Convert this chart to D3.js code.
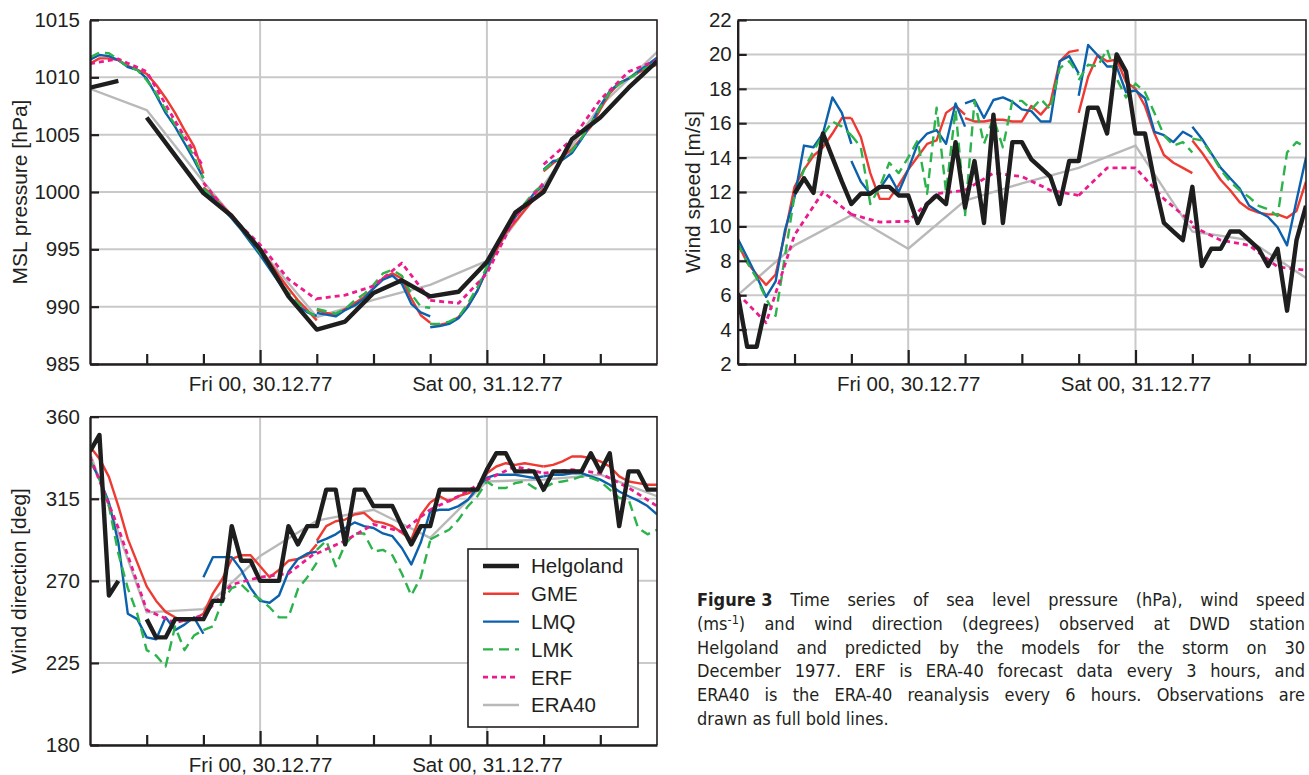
<!DOCTYPE html>
<html><head><meta charset="utf-8">
<script src="https://cdn.jsdelivr.net/npm/d3@7"></script>
<style>
html,body{margin:0;padding:0;background:#fff;}
svg{display:block;}
</style></head><body>
<svg id="fig" width="1309" height="775"></svg>
<script>
// ---------- time axis (hours relative to Fri 30.12.77 00 UTC) ----------
const timeDomain = [-18, 42];
const minorTicks = [-12, -6, 0, 6, 12, 18, 24, 30, 36];
const majorTicks = [0, 24];
const majorLabels = {0: "Fri 00, 30.12.77", 24: "Sat 00, 31.12.77"};

// model forecast runs: start hour of each 12-h run, hourly values
const runStarts = [-18, -6, 6, 18, 30];
const erfStep = 3;     // ERF every 3 hours
const era40Hours = [-18, -12, -6, 0, 6, 12, 18, 24, 30, 36, 42];

// ---------- MSL pressure [hPa] ----------
const pressTicks = [985, 990, 995, 1000, 1005, 1010, 1015];
const pressObsHours = [-18, -15, -14, -12, -9, -6, -3, 0, 3, 6, 9, 12, 15, 18, 21, 24, 27, 30, 33, 36, 39, 42];
const pressObs = [1009.1, 1009.7, null, 1006.5, 1003.2, 999.9, 997.9, 995.0, 990.9, 988.0, 988.7, 991.2, 992.3, 990.9, 991.3, 993.9, 998.2, 1000.0, 1004.6, 1006.5, 1009.1, 1011.4];
const pressGME = [
  [1011.2, 1011.65, 1011.65, 1011.5, 1011.0, 1010.65, 1010.3, 1009.35, 1008.2, 1006.9, 1005.4, 1004.0, 1001.6],
  [1000.4, 999.7, 998.8, 998.0, 996.95, 996.1, 995.05, 993.9, 992.7, 991.6, 990.55, 989.7, 988.8],
  [989.7, 989.45, 989.3, 989.8, 990.3, 990.85, 991.6, 992.5, 992.9, 992.45, 990.7, 989.25, 988.6],
  [988.5, 988.4, 988.6, 989.1, 990.1, 991.4, 993.2, 994.9, 996.4, 997.4, 998.4, 999.4, 1000.3],
  [1001.8, 1002.5, 1003.1, 1003.7, 1004.7, 1005.7, 1007.2, 1008.6, 1009.5, 1009.9, 1010.4, 1010.8, 1011.1]
];
const pressLMQ = [
  [1011.55, 1011.95, 1011.85, 1011.5, 1010.9, 1010.65, 1009.9, 1008.45, 1006.9, 1005.7, 1004.25, 1002.8, 1001.2],
  [1000.2, 999.5, 998.6, 997.7, 996.7, 995.6, 994.5, 993.3, 992.1, 991.0, 990.1, 989.5, 989.2],
  [989.45, 989.3, 989.15, 989.7, 990.1, 990.7, 991.6, 992.35, 992.7, 992.0, 990.25, 989.5, 989.15],
  [988.2, 988.3, 988.5, 989.0, 990.0, 991.4, 993.3, 995.2, 996.7, 997.8, 998.8, 999.9, 1000.6],
  [1001.95, 1002.7, 1002.8, 1003.4, 1004.6, 1005.9, 1007.5, 1008.8, 1009.5, 1009.9, 1010.5, 1011.1, 1011.7]
];
const pressLMK = [
  [1011.75, 1012.15, 1012.1, 1011.55, 1010.9, 1010.65, 1009.75, 1008.6, 1007.15, 1005.85, 1004.55, 1003.1, 1001.2],
  [1000.3, 999.6, 998.7, 997.8, 996.8, 995.8, 994.7, 993.5, 992.3, 991.2, 990.3, 989.6, 989.1],
  [989.8, 989.6, 989.4, 989.8, 990.55, 991.1, 991.9, 992.9, 993.2, 992.7, 991.1, 990.0, 989.9],
  [988.5, 988.5, 988.7, 989.1, 990.3, 991.7, 993.5, 995.35, 996.8, 998.0, 999.0, 1000.0, 1000.7],
  [1001.9, 1002.6, 1003.0, 1003.6, 1004.7, 1005.9, 1007.4, 1008.7, 1009.4, 1009.9, 1010.4, 1010.9, 1011.3]
];
const pressERF = [
  [1011.2, 1011.6, 1010.5, 1006.2, 1002.2],
  [1000.8, 997.8, 995.4, 992.4, 990.6],
  [990.7, 991.0, 991.8, 993.8, 990.6],
  [990.55, 990.3, 992.9, 997.8, 1000.8],
  [1002.4, 1004.6, 1008.05, 1010.5, 1011.5]
];
const pressERA40 = [1009.0, 1007.15, 1000.9, 995.0, 989.1, 990.6, 991.9, 994.0, 1000.6, 1007.5, 1012.2];

// ---------- wind speed [m/s] ----------
const speedTicks = [2, 4, 6, 8, 10, 12, 14, 16, 18, 20, 22];
const obsHours = d3.range(-18, 43);
const speedObs = [6.1, 3.0, 3.0, 5.5, null, null, 11.9, 12.8, 11.95, 15.4, 14.0, 12.6, 11.3, 11.9, 11.9, 12.3, 12.3, 11.8, 11.8, 10.2, 11.3, 11.8, 11.3, 14.9, 11.1, 13.8, 10.2, 16.5, 10.2, 14.9, 14.9, 13.9, 13.4, 12.9, 11.3, 13.8, 13.8, 16.9, 16.9, 15.4, 20.0, 19.0, 15.4, 15.4, 12.6, 10.2, 9.7, 9.2, 12.3, 7.7, 8.7, 8.7, 9.7, 9.7, 9.2, 8.7, 7.7, 8.7, 5.1, 9.2, 11.2];
const speedGME = [
  [9.0, 7.9, 7.2, 6.6, 7.2, 9.6, 12.3, 13.3, 14.1, 14.6, 15.4, 16.3, 16.3],
  [16.3, 15.2, 13.1, 11.6, 11.6, 12.4, 13.3, 14.05, 14.8, 15.0, 16.6, 17.0, 16.5],
  [16.3, 16.1, 16.1, 16.2, 16.2, 16.1, 16.1, 17.0, 16.5, 17.15, 19.6, 20.15, 20.25],
  [16.6, 18.7, 19.95, 19.6, 19.7, 18.4, 18.0, 17.0, 15.4, 14.15, 13.7, 13.4, 13.1],
  [15.0, 14.3, 13.5, 12.7, 12.1, 11.4, 11.0, 10.8, 10.7, 10.7, 10.5, 10.9, 12.6]
];
const speedLMQ = [
  [9.3, 8.2, 7.1, 5.9, 6.8, 9.8, 11.7, 14.7, 14.6, 15.4, 17.5, 16.6, 14.8],
  [13.8, 12.6, 11.9, 12.2, 13.0, 12.0, 13.3, 14.8, 15.4, 15.6, 14.8, 17.15, 15.8],
  [17.15, 17.35, 16.3, 17.35, 17.5, 17.25, 16.8, 16.7, 16.1, 16.1, 19.6, 19.9, 18.9],
  [17.6, 20.55, 19.95, 19.3, 19.3, 17.8, 17.9, 17.45, 15.5, 15.3, 14.9, 15.5, 15.2],
  [15.8, 15.1, 14.25, 13.4, 12.8, 12.2, 11.2, 10.85, 10.55, 9.95, 8.9, 11.5, 14.0]
];
const speedLMK = [
  [9.0, 7.9, 7.0, 5.8, 4.8, 8.3, 11.8, 13.3, 14.4, 15.3, 16.1, 15.8, 15.3],
  [15.3, 14.6, 11.3, 12.3, 13.7, 13.1, 14.0, 15.0, 11.9, 16.9, 12.0, 16.8, 10.8],
  [10.6, 17.3, 14.8, 16.3, 14.6, 17.3, 17.3, 16.8, 17.4, 16.8, 19.2, 19.6, 18.8],
  [18.5, 19.4, 19.3, 20.3, 18.6, 17.5, 18.3, 17.8, 16.6, 15.3, 14.7, 14.9, 14.3],
  [15.1, 15.0, 14.2, 13.3, 12.6, 12.1, 11.7, 11.2, 11.0, 10.6, 14.3, 14.9, 14.6]
];
const speedERF = [
  [6.1, 4.4, 9.5, 12.0, 10.7],
  [10.7, 10.25, 10.3, 11.9, 12.1],
  [12.1, 13.1, 12.9, 12.1, 11.8],
  [11.8, 13.4, 13.4, 11.6, 10.2],
  [10.0, 9.2, 8.9, 7.65, 7.45]
];
const speedERA40 = [6.0, 8.9, 10.65, 8.7, 11.5, 12.5, 13.4, 14.7, 9.7, 9.2, 7.0];

// ---------- wind direction [deg] ----------
const dirTicks = [180, 225, 270, 315, 360];
const dirObs = [341, 350, 262, 270, null, null, 249, 239, 239, 249, 249, 249, 249, 259, 259, 300, 281, 281, 270, 270, 270, 300, 290, 300, 300, 320, 320, 290, 320, 320, 311, 311, 311, 300, 290, 300, 300, 320, 320, 320, 320, 320, 331, 340, 340, 330, 330, 330, 320, 330, 330, 330, 330, 340, 330, 340, 300, 330, 330, 320, 320];
const dirGME = [
  [343.6, 337, 327, 311, 293, 280, 267, 259, 253, 250, 248, 249, 252],
  [252, 263, 271, 282, 284, 284, 278, 272, 276, 281, 282, 284, 290],
  [292, 300, 302.7, 303.6, 306.4, 307.3, 302.7, 301.8, 300, 296.4, 292.7, 306, 313],
  [313, 316.4, 313.6, 316.4, 318, 320, 329, 332.7, 334.5, 333.6, 334.5, 333.6, 332.7],
  [332.7, 333.6, 335.5, 338.2, 338.2, 337.3, 335.5, 332.7, 327.3, 324.5, 323.6, 322.7, 322.7]
];
const dirLMQ = [
  [336, 326, 313, 291, 252, 249, 239, 238, 250, 243, 246, 250, 241],
  [272, 283, 283, 283, 276, 266, 259, 258, 262, 275, 282, 285, 286],
  [291, 293, 295.5, 299, 302, 300, 299, 296, 294.5, 288, 279, 291, 308],
  [308, 309, 309, 311, 314.5, 321, 326.4, 328.2, 328.2, 328.2, 327.3, 326.4, 327.3],
  [327.3, 328.2, 328.2, 329, 329, 327.3, 325.5, 322.7, 319, 316.4, 314, 311, 306.4]
];
const dirLMK = [
  [336, 326, 311, 285, 266, 252, 232, 229, 223, 245, 232, 240, 243],
  [243, 245, 259, 266, 268, 263, 260, 255.5, 250, 250, 265.5, 272, 280],
  [287, 292, 278, 290, 296, 296, 286, 287, 284, 274, 262, 272, 292],
  [292.7, 295.5, 298, 303.6, 311, 316.4, 324.5, 320.9, 320.9, 323.6, 324.5, 321, 319],
  [321, 323.6, 324.5, 325.5, 327.3, 326.4, 324.5, 320, 315.5, 314.5, 299, 295.5, 298]
];
const dirERF = [
  [338, 299, 254, 247, 251],
  [251, 268, 272, 274, 286],
  [285, 292, 301, 297, 309],
  [309, 316.4, 325.5, 332.7, 329],
  [329, 331, 329, 321, 311]
];
const dirERA40 = [340, 252.7, 254.5, 283.6, 303, 309, 293.6, 324.5, 325.5, 328.2, 316.4];

// ---------- legend & caption ----------
const legendNames = ["Helgoland", "GME", "LMQ", "LMK", "ERF", "ERA40"];
const captionLines = [
  [[["Figure 3", "b"]], "Time", "series", "of", "sea", "level", "pressure", "(hPa),", "wind", "speed"],
  [[["(ms", ""], ["-1", "sup"], [")", ""]], "and", "wind", "direction", "(degrees)", "observed", "at", "DWD", "station"],
  ["Helgoland", "and", "predicted", "by", "the", "models", "for", "the", "storm", "on", "30"],
  ["December", "1977.", "ERF", "is", "ERA-40", "forecast", "data", "every", "3", "hours,", "and"],
  ["ERA40", "is", "the", "ERA-40", "reanalysis", "every", "6", "hours.", "Observations", "are"],
  ["drawn", "as", "full", "bold", "lines."]
];

// ---------- drawing ----------
const svg = d3.select("#fig");
const FONT = "'Liberation Sans', Arial, Helvetica, sans-serif";
const INK = "#231f20";
const GRID = "#c9c9c9";

const styles = {
  Helgoland: {color: "#1e1e1e", width: 4.4, dash: null},
  GME:   {color: "#ee3a33", width: 2.4, dash: null},
  LMQ:   {color: "#0c61ad", width: 2.4, dash: null},
  LMK:   {color: "#2cb34b", width: 2.4, dash: "10,6"},
  ERF:   {color: "#ec1b8d", width: 2.8, dash: "5,4"},
  ERA40: {color: "#b9b9b9", width: 2.4, dash: null}
};

function runSegments(runs, step) {
  return runs.map((vals, i) => vals.map((v, j) => ({h: runStarts[i] + j * step, v})));
}
function pairs(hours, vals) {
  return hours.map((h, i) => ({h, v: vals[i]}));
}

function panel(cfg) {
  const x = d3.scaleLinear().domain(timeDomain).range([cfg.left, cfg.right]);
  const y = d3.scaleLinear().domain(cfg.domain).range([cfg.bottom, cfg.top]);
  const g = svg.append("g");

  // grid
  g.append("g").selectAll("line").data(cfg.ticks).join("line")
    .attr("x1", cfg.left).attr("x2", cfg.right)
    .attr("y1", d => y(d)).attr("y2", d => y(d))
    .attr("stroke", GRID).attr("stroke-width", 2);
  g.append("g").selectAll("line").data(majorTicks).join("line")
    .attr("x1", d => x(d)).attr("x2", d => x(d))
    .attr("y1", cfg.top).attr("y2", cfg.bottom)
    .attr("stroke", GRID).attr("stroke-width", 2);

  // series
  const line = d3.line().defined(d => d.v != null).x(d => x(d.h)).y(d => y(d.v));
  const clipId = "clip" + cfg.id;
  svg.append("clipPath").attr("id", clipId).append("rect")
    .attr("x", cfg.left).attr("y", cfg.top - 2)
    .attr("width", cfg.right - cfg.left).attr("height", cfg.bottom - cfg.top + 4);
  const lines = g.append("g").attr("clip-path", `url(#${clipId})`);
  const draw = (name, segs) => {
    const s = styles[name];
    lines.append("g").selectAll("path").data(segs).join("path")
      .attr("d", line)
      .attr("fill", "none")
      .attr("stroke", s.color)
      .attr("stroke-width", s.width)
      .attr("stroke-linejoin", "round")
      .attr("stroke-dasharray", s.dash);
  };
  draw("ERA40", [pairs(era40Hours, cfg.era40)]);
  draw("GME", runSegments(cfg.gme, 1));
  draw("LMQ", runSegments(cfg.lmq, 1));
  draw("LMK", runSegments(cfg.lmk, 1));
  draw("ERF", runSegments(cfg.erf, erfStep));
  draw("Helgoland", [pairs(cfg.obsHours, cfg.obs)]);

  // frame (top & right)
  g.append("path")
    .attr("d", `M${cfg.left},${cfg.top}H${cfg.right}V${cfg.bottom}`)
    .attr("fill", "none").attr("stroke", INK).attr("stroke-width", 1.6);

  // y axis
  const ya = g.append("g").attr("transform", `translate(${cfg.left},0)`)
    .call(d3.axisLeft(y).tickValues(cfg.ticks).tickFormat(d3.format("d"))
      .tickSize(-9).tickSizeOuter(0).tickPadding(cfg.pad));
  ya.select(".domain").attr("stroke", INK).attr("stroke-width", 2.4);
  ya.selectAll(".tick line").attr("stroke", INK).attr("stroke-width", 2.2);
  ya.selectAll(".tick text").attr("fill", INK)
    .style("font-family", FONT).style("font-size", "20.5px");

  // x axis
  const xa = g.append("g").attr("transform", `translate(0,${cfg.bottom})`)
    .call(d3.axisBottom(x).tickValues(minorTicks).tickSize(-10).tickSizeOuter(0).tickPadding(12.5)
      .tickFormat(d => majorLabels[d] || ""));
  xa.select(".domain").attr("stroke", INK).attr("stroke-width", 2.4);
  xa.selectAll(".tick line").attr("stroke", INK).attr("stroke-width", 2.2)
    .attr("y2", d => majorTicks.includes(d) ? -14 : -10);
  xa.selectAll(".tick text").attr("fill", INK)
    .style("font-family", FONT).style("font-size", "20.5px");

  // axis title
  g.append("text")
    .attr("transform", `translate(${cfg.titleX},${(cfg.top + cfg.bottom) / 2}) rotate(-90)`)
    .attr("text-anchor", "middle")
    .attr("fill", INK)
    .style("font-family", FONT).style("font-size", "21px")
    .text(cfg.title);
}

panel({
  id: 1, left: 90, right: 657, top: 20, bottom: 364, pad: 10, titleX: 27,
  domain: [985, 1015], ticks: pressTicks, title: "MSL pressure [hPa]",
  obsHours: pressObsHours, obs: pressObs,
  gme: pressGME, lmq: pressLMQ, lmk: pressLMK, erf: pressERF, era40: pressERA40
});
panel({
  id: 2, left: 737.7, right: 1306, top: 20, bottom: 364, pad: 6, titleX: 700,
  domain: [2, 22], ticks: speedTicks, title: "Wind speed [m/s]",
  obsHours: obsHours, obs: speedObs,
  gme: speedGME, lmq: speedLMQ, lmk: speedLMK, erf: speedERF, era40: speedERA40
});
panel({
  id: 3, left: 90, right: 657, top: 416.7, bottom: 745, pad: 10, titleX: 26,
  domain: [180, 360], ticks: dirTicks, title: "Wind direction [deg]",
  obsHours: obsHours, obs: dirObs,
  gme: dirGME, lmq: dirLMQ, lmk: dirLMK, erf: dirERF, era40: dirERA40
});

// legend
const lg = svg.append("g");
lg.append("rect").attr("x", 468).attr("y", 549).attr("width", 170).attr("height", 178)
  .attr("fill", "#fff").attr("stroke", INK).attr("stroke-width", 1.6);
const ly = d3.scalePoint().domain(legendNames).range([566, 705]);
legendNames.forEach(n => {
  const s = styles[n];
  lg.append("line").attr("x1", 483).attr("x2", 519).attr("y1", ly(n)).attr("y2", ly(n))
    .attr("stroke", s.color).attr("stroke-width", s.width).attr("stroke-dasharray", s.dash);
  lg.append("text").attr("x", 531).attr("y", ly(n)).attr("dy", "0.36em")
    .attr("fill", INK).style("font-family", FONT).style("font-size", "20.5px").text(n);
});

// caption, justified
const CAP_FONT = "'DejaVu Sans Condensed', 'Liberation Sans', sans-serif";
const capLeft = 697, capRight = 1305, capTop = 606, capStep = 23.8, capSize = 18;
const cap = svg.append("g").style("font-family", CAP_FONT).style("font-size", capSize + "px").attr("fill", INK);
captionLines.forEach((words, li) => {
  const yb = capTop + li * capStep;
  const nodes = words.map(w => {
    const t = cap.append("text").attr("y", yb);
    const parts = typeof w === "string" ? [[w, ""]] : w;
    let shifted = false;
    parts.forEach(([txt, kind]) => {
      const ts = t.append("tspan").text(txt);
      if (kind === "b") ts.style("font-weight", "bold");
      if (kind === "sup") { ts.attr("dy", -6).style("font-size", (capSize * 0.7) + "px"); shifted = true; }
      else if (shifted) { ts.attr("dy", 6); shifted = false; }
    });
    return t;
  });
  const widths = nodes.map(n => n.node().getComputedTextLength());
  const total = d3.sum(widths);
  const last = li === captionLines.length - 1;
  const gap = last ? capSize * 0.28 : (capRight - capLeft - total) / (nodes.length - 1);
  let cx = capLeft;
  nodes.forEach((n, i) => { n.attr("x", cx); cx += widths[i] + gap; });
});
</script>
</body></html>
